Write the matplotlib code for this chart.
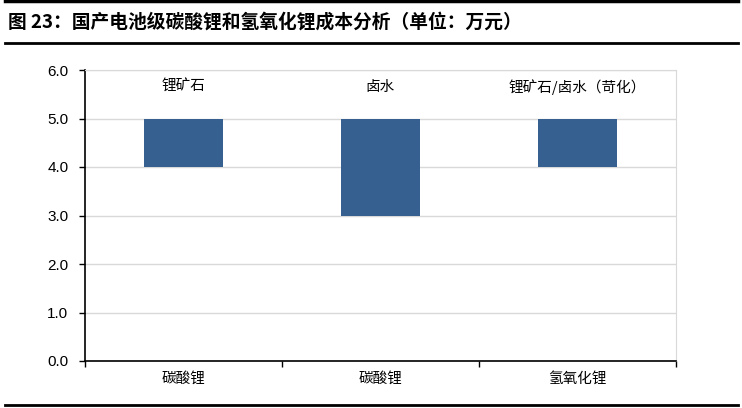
import matplotlib.pyplot as plt
from matplotlib.lines import Line2D

plt.rcParams['font.family'] = ['Liberation Sans', 'Noto Sans CJK SC', 'DejaVu Sans']

categories = ['碳酸锂', '碳酸锂', '氢氧化锂']
sources = ['锂矿石', '卤水', '锂矿石/卤水（苛化）']
cost_low = [4.0, 3.0, 4.0]
cost_high = [5.0, 5.0, 5.0]
label_y = 5.65

fig = plt.figure(figsize=(7.42, 4.08), dpi=100)
ax = fig.add_axes([85/742, 47/408, 591/742, 291/408])

x = list(range(len(categories)))
heights = [h - l for h, l in zip(cost_high, cost_low)]
ax.bar(x, heights, bottom=cost_low, width=0.4, color='#36608f', zorder=3)

for xi, s in zip(x, sources):
    ax.text(xi, label_y, s, ha='center', va='center', fontsize=10.5,
            family=['Noto Sans CJK SC', 'DejaVu Sans'])

ax.set_xlim(-0.5, 2.5)
ax.set_ylim(0, 6)
ax.set_yticks([0, 1, 2, 3, 4, 5, 6])
ax.set_yticklabels(['%.1f' % v for v in range(7)], fontsize=11)
ax.set_xticks(x)
ax.set_xticklabels(categories, fontsize=10.5, family=['Noto Sans CJK SC', 'DejaVu Sans'])
ax.tick_params(axis='x', length=0, pad=8)
ax.set_xticks([-0.5, 0.5, 1.5, 2.5], minor=True)
ax.tick_params(axis='x', which='minor', length=4, width=1, direction='out')
ax.tick_params(axis='y', length=4, width=1, direction='out', pad=8)

ax.yaxis.grid(True, color='#d9d9d9', linewidth=1, zorder=0)
ax.set_axisbelow(True)
ax.spines['left'].set_color('black')
ax.spines['bottom'].set_color('black')
ax.spines['left'].set_linewidth(1.2)
ax.spines['bottom'].set_linewidth(1.2)
ax.spines['top'].set_color('#d9d9d9')
ax.spines['right'].set_color('#d9d9d9')

fig.text(8/742, 1 - 22/408, '图 23：国产电池级碳酸锂和氢氧化锂成本分析（单位：万元）',
         fontsize=13.5, fontweight='bold', va='center', ha='left',
         family=['Noto Sans CJK SC', 'DejaVu Sans'])

for y, lw in [(1 - 1/408, 2.5), (1 - 43/408, 2), (1 - 405/408, 2)]:
    fig.add_artist(Line2D([5/742, 738/742], [y, y], color='black', linewidth=lw,
                          transform=fig.transFigure))

fig.savefig('out.png', dpi=100)
